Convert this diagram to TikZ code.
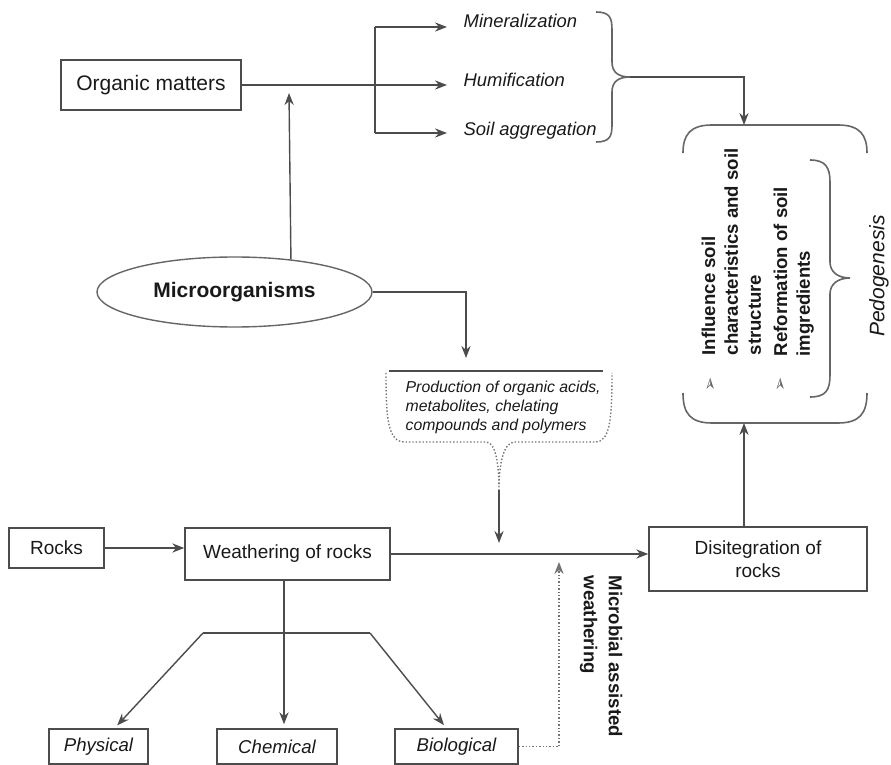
\documentclass[tikz,border=0pt]{standalone}
\usepackage{fontspec}
\setmainfont{Liberation Sans}
\newfontfamily\symbfont{DejaVu Sans}
\usetikzlibrary{arrows.meta,shapes.geometric}

\begin{document}
\begin{tikzpicture}[x=0.5pt,y=-0.5pt,line width=0.7pt,draw=black!70,>={Stealth[length=6pt,width=4.6pt]},
  box/.style={draw=black!70,line width=0.7pt,inner sep=0pt,text=black!90,font=\fontsize{9.5}{11.5}\selectfont},
  resbox/.style={box,minimum height=17.5pt,font=\fontsize{9.3}{11}\selectfont\itshape},
  proc/.style={inner sep=0pt,anchor=west,text=black!90,font=\fontsize{9.2}{11}\selectfont\itshape},
  vtext/.style={inner sep=0pt,align=left,text=black!90,font=\fontsize{9.3}{11.4}\selectfont\bfseries},
  bullet/.style={rotate=90,inner sep=0pt,text=black!60,font=\symbfont\fontsize{8.5}{8.5}\selectfont},
  curly/.style={line width=0.8pt,draw=black!60},
  callout/.style={densely dotted,line width=0.7pt,draw=black!55}]
\useasboundingbox (0,0) rectangle (891,765);
% upper part: organic matters and what microbes do with them
\node[box,minimum width=90pt,minimum height=25pt,font=\fontsize{10.5}{12}\selectfont] (organic) at (151,85) {Organic matters};
\coordinate (jtop) at (375,27);
\coordinate (jmid) at (375,85);
\coordinate (jbot) at (375,133);
\node[proc] (mineral) at (447,21) {\hspace{8pt}Mineralization};
\node[proc] (humi) at (447,80) {\hspace{8pt}Humification};
\node[proc] (aggr) at (447,131) {\hspace{8pt}Soil aggregation};
\draw (organic.east) -- (jmid);
\draw (jtop) -- (jbot);
\draw[->] (jtop) -- (jtop -| mineral.west);
\draw[->] (jmid) -- (jmid -| humi.west);
\draw[->] (jbot) -- (jbot -| aggr.west);
% brace round the three processes
\coordinate (btip) at (630,77);
\draw[curly] (596,12) .. controls (610,12) and (612,18) .. (612,30) -- (612,62)
  .. controls (612,72) and (618,77) .. (btip) .. controls (618,77) and (612,82) .. (612,92)
  -- (612,125) .. controls (612,136) and (610,142) .. (596,142);
% pedogenesis bracket
\coordinate (pedtop) at (744,125);
\coordinate (pedbot) at (744,423);
\draw[curly] (683,153) .. controls (683,135) and (690,125) .. (712,125) -- (838,125)
  .. controls (860,125) and (867,135) .. (867,153);
\draw[curly] (683,393) .. controls (683,413) and (690,423) .. (712,423) -- (838,423)
  .. controls (860,423) and (867,413) .. (867,393);
\draw[curly] (810,160) .. controls (826,160) and (830,168) .. (830,182) -- (830,262)
  .. controls (830,272) and (838,278) .. (850,278) .. controls (838,278) and (830,284) .. (830,294)
  -- (830,375) .. controls (830,390) and (826,397) .. (810,397);
\draw[->] (btip) -| (pedtop);
\node[vtext,rotate=90,anchor=north west] (influence) at (701,356) {Influence soil\\characteristics and soil\\structure};
\node[vtext,rotate=90,anchor=north west] (reform) at (773,357) {Reformation of soil\\imgredients};
\node[bullet] (bulA) at (711,384) {➢};
\node[bullet] (bulB) at (781,384) {➢};
\node[rotate=90,inner sep=0pt,text=black!90,font=\fontsize{10.5}{12}\selectfont\itshape] (pedo) at (879,276) {Pedogenesis};
% microorganisms
\node[ellipse,draw=black!60,line width=0.7pt,minimum width=137.5pt,minimum height=35pt,inner sep=0pt,
  font=\fontsize{10.5}{12}\selectfont\bfseries,text=black!90] (micro) at (234.5,292) {Microorganisms};
\coordinate (orgup) at (289,93);
\draw[->] (micro.30) -- (orgup);
\coordinate (prodin) at (466,358);
\draw[->] (micro.east) -| (prodin);
% production callout
\draw[line width=0.8pt,black!70] (389,371) -- (603,371);
\coordinate (funnel) at (499,490);
\draw[callout] (386,373) .. controls (386,420) and (388,442) .. (405,442) -- (486,442)
  .. controls (496,442) and (499,465) .. (funnel) .. controls (499,465) and (503,442) .. (515,442)
  -- (595,442) .. controls (610,442) and (612,420) .. (612,373);
\node[inner sep=0pt,anchor=north west,align=left,text=black!90,font=\fontsize{7.9}{9.6}\selectfont\itshape] (prod) at (405,380)
  {Production of organic acids,\\metabolites, chelating\\compounds and polymers};
\coordinate (inmain) at (499,543);
\draw[->] (funnel) -- (inmain);
% lower part: rocks
\node[box,minimum width=47.5pt,minimum height=20pt] (rocks) at (56.5,548) {Rocks};
\node[box,minimum width=102.5pt,minimum height=26pt] (weather) at (287.5,554) {Weathering of rocks};
\node[box,minimum width=109pt,minimum height=32pt,align=center] (disint) at (758,559) {Disitegration of\\rocks};
\draw[->] (rocks.east) -- (rocks.east -| weather.west);
\draw[->] (weather.east) -- (weather.east -| disint.west);
\draw[->] (disint.north -| pedbot) -- (pedbot);
% kinds of weathering
\node[resbox,minimum width=49.5pt] (phys) at (98.5,746.5) {Physical};
\node[resbox,minimum width=60pt] (chem) at (277,746.5) {Chemical};
\node[resbox,minimum width=61.5pt] (bio) at (456.5,746.5) {Biological};
\coordinate (wfork) at (284,633);
\coordinate (lfork) at (203,633);
\coordinate (rfork) at (370,633);
\draw (lfork) -- (rfork);
\draw[->,shorten >=2pt] (weather.south -| wfork) -- (wfork |- chem.north);
\draw[->,shorten >=2pt] (lfork) -- ([xshift=8pt]phys.north);
\draw[->,shorten >=2pt] (rfork) -- ([xshift=-5pt]bio.north);
\coordinate (mwtip) at (559,562);
\draw[->,densely dotted,black!55] (bio.east) -| (mwtip);
\node[vtext,rotate=-90,anchor=north west,font=\fontsize{9.3}{12.5}\selectfont\bfseries] (mwlabel) at (623,575) {Microbial assisted\\weathering};
\end{tikzpicture}
\end{document}
